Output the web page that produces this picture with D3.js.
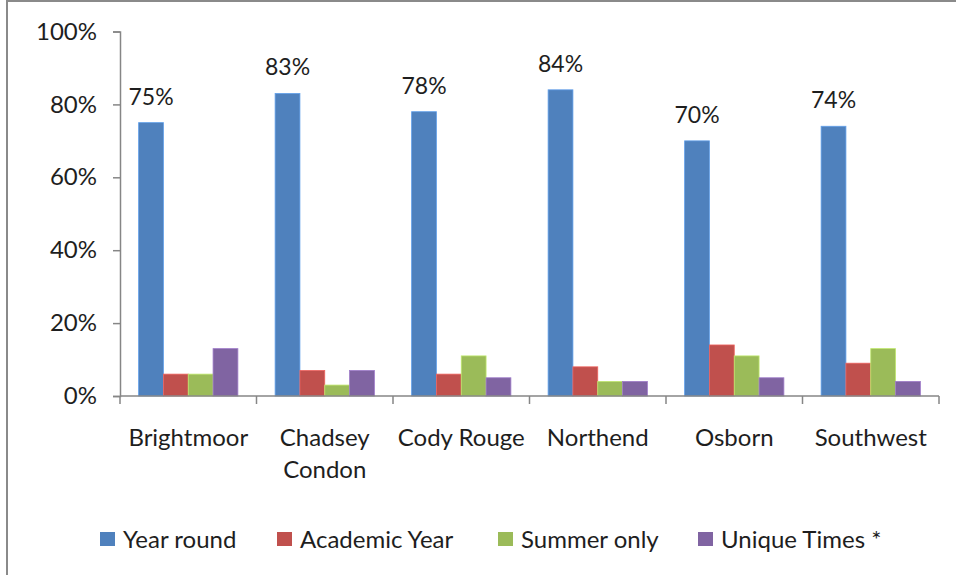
<!DOCTYPE html>
<html>
<head>
<meta charset="utf-8">
<script src="https://cdn.jsdelivr.net/npm/d3@7/dist/d3.min.js"></script>
<style>
  html, body { margin: 0; padding: 0; background: #fff; }
  svg { display: block; }
  text { font-family: Lato, "Open Sans", sans-serif; }
</style>
</head>
<body>
<svg id="chart" width="956" height="575"></svg>
<script>
// ---- data ----
const categories = ["Brightmoor", "Chadsey Condon", "Cody Rouge", "Northend", "Osborn", "Southwest"];
const categoryLines = [["Brightmoor"], ["Chadsey", "Condon"], ["Cody Rouge"], ["Northend"], ["Osborn"], ["Southwest"]];
const seriesNames = ["Year round", "Academic Year", "Summer only", "Unique Times *"];
const yearRound    = [0.75, 0.83, 0.78, 0.84, 0.70, 0.74];
const academicYear = [0.06, 0.07, 0.06, 0.08, 0.14, 0.09];
const summerOnly   = [0.06, 0.03, 0.11, 0.04, 0.11, 0.13];
const uniqueTimes  = [0.13, 0.07, 0.05, 0.04, 0.05, 0.04];
const yTicks = [0, 0.2, 0.4, 0.6, 0.8, 1.0];
const colors = ["#4F81BD", "#C0504D", "#9BBB59", "#8064A2"];

const seriesValues = [yearRound, academicYear, summerOnly, uniqueTimes];

const svg = d3.select("#chart");
const textColor = "#1e1e1e";

// outer frame
svg.append("rect")
  .attr("x", 7).attr("y", 1).attr("width", 1000).attr("height", 700)
  .attr("fill", "none").attr("stroke", "#8a8a8a").attr("stroke-width", 2);

const plotLeft = 120, plotRight = 939, plotTop = 31.5, plotBottom = 396;

const x = d3.scaleBand().domain(categories).range([plotLeft, plotRight]).paddingInner(0).paddingOuter(0);
const xs = d3.scaleBand().domain(seriesNames).range([0, x.bandwidth()]).paddingInner(0).paddingOuter(0.75);
const y = d3.scaleLinear().domain([0, 1]).range([plotBottom, plotTop]);

const axisColor = "#868686";

// bars
const g = svg.append("g");
seriesNames.forEach((s, si) => {
  g.selectAll(null)
    .data(categories.map((c, ci) => ({ c, v: seriesValues[si][ci] })))
    .join("rect")
    .attr("x", d => x(d.c) + xs(s))
    .attr("y", d => y(d.v))
    .attr("width", xs.bandwidth())
    .attr("height", d => y(0) - y(d.v))
    .attr("fill", colors[si])
    .attr("stroke", d3.color(colors[si]).brighter(0.6))
    .attr("stroke-width", 0.8);
});

// data labels on Year round
g.selectAll(null)
  .data(categories.map((c, ci) => ({ c, v: yearRound[ci] })))
  .join("text")
  .attr("x", d => x(d.c) + xs(seriesNames[0]) + xs.bandwidth() / 2)
  .attr("y", d => y(d.v) - 18)
  .attr("text-anchor", "middle")
  .attr("font-size", 23)
  .attr("fill", textColor)
  .text(d => d3.format(".0%")(d.v));

// y axis
const yAxis = d3.axisLeft(y).tickValues(yTicks).tickFormat(d3.format(".0%")).tickSize(7).tickPadding(16);
const ya = svg.append("g").attr("transform", `translate(${plotLeft},0)`).call(yAxis);
ya.select(".domain").attr("stroke", axisColor).attr("stroke-width", 1.5);
ya.selectAll(".tick line").attr("stroke", axisColor).attr("stroke-width", 1.5);
ya.selectAll(".tick text").attr("font-size", 24).attr("fill", textColor)
  .attr("font-family", "Lato, 'Open Sans', sans-serif");

// x axis
const xa = svg.append("g").attr("transform", `translate(0,${plotBottom})`);
xa.append("line").attr("x1", plotLeft).attr("x2", plotRight).attr("y1", 0).attr("y2", 0)
  .attr("stroke", axisColor).attr("stroke-width", 1.5);
const bounds = categories.map(c => x(c)).concat([plotRight]);
xa.selectAll(null).data(bounds).join("line")
  .attr("x1", d => d).attr("x2", d => d).attr("y1", 0).attr("y2", 8)
  .attr("stroke", axisColor).attr("stroke-width", 1.5);
const labels = xa.selectAll(null).data(categories).join("text")
  .attr("text-anchor", "middle")
  .attr("font-size", 24)
  .attr("fill", textColor);
labels.each(function(c, i) {
  const t = d3.select(this);
  categoryLines[i].forEach((line, li) => {
    t.append("tspan").attr("x", x(c) + x.bandwidth() / 2).attr("y", 50 + li * 32).text(line);
  });
});

// legend
const legendX = [100, 277, 498, 698];
const lg = svg.append("g").attr("transform", "translate(0,539)");
seriesNames.forEach((s, i) => {
  lg.append("rect").attr("x", legendX[i]).attr("y", -7).attr("width", 15).attr("height", 14).attr("fill", colors[i]);
  lg.append("text").attr("x", legendX[i] + 23).attr("y", 8.5).attr("font-size", 24).attr("fill", textColor).text(s);
});
</script>
</body>
</html>
